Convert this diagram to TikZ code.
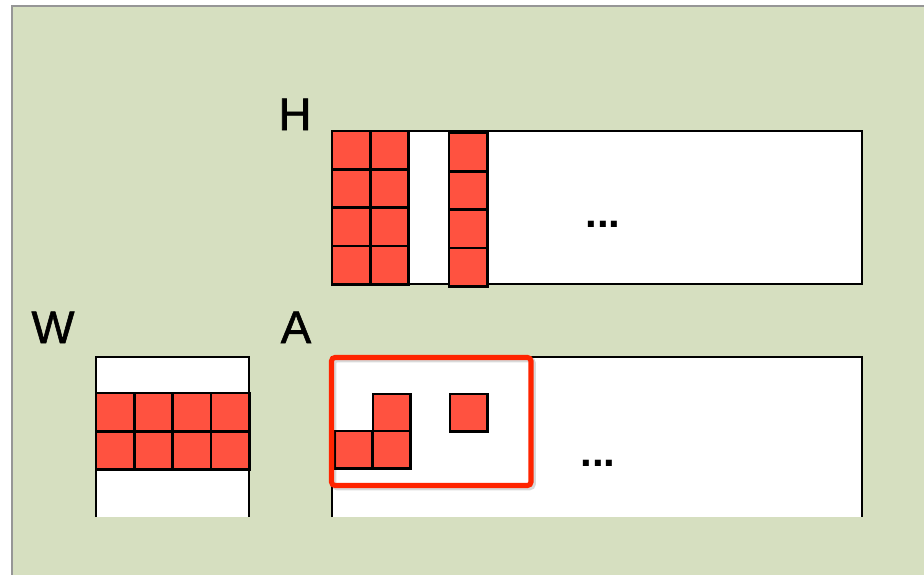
\documentclass[tikz,border=0pt]{standalone}
\usepackage{fontspec}
\setmainfont{Liberation Sans}
\newfontfamily\labfont[FakeBold=1.2]{Liberation Sans}
\usepackage{xcolor}
\usepackage{tikz}
\definecolor{panelbg}{RGB}{214,223,192}
\definecolor{panelrim}{RGB}{150,150,150}
\definecolor{cellred}{RGB}{255,82,64}
\definecolor{framered}{RGB}{255,36,0}

\tikzset{
  cell/.style={fill=cellred, draw=black, line width=1.5pt},
  matrim/.style={draw=black, line width=1.1pt},
  letter/.style={anchor=base, inner sep=0pt, font=\labfont\fontsize{26}{30}\selectfont},
  dots/.style={inner sep=0pt, font=\fontsize{24}{28}\selectfont\bfseries}
}

\begin{document}
\begin{tikzpicture}[x=0.02cm, y=-0.02cm]
			\def\cs{38.3}
			\def\ca{37.5}
			\useasboundingbox (0,0) rectangle (924,575);

			% panel
			\fill[panelbg] (12,6) rectangle (940,590);
			\draw[panelrim, line width=1.2pt] (12,590) -- (12,6) -- (940,6);

			% H: 4 x many
			\fill[white] (332,131) rectangle (862,284);
			\draw[matrim] (332,131) rectangle (862,284);
			\foreach \c in {0,1}
				\foreach \r in {0,...,3}
					\draw[cell] ({332+\c*\cs},{131+\r*\cs}) rectangle ++(\cs,\cs);
			\foreach \r in {0,...,3}
				\draw[cell] (449,{133+\r*\cs}) rectangle ++(\cs,\cs);

			% W: open at the bottom
			\fill[white] (96,357) rectangle (249,517);
			\draw[matrim] (96,517) -- (96,357) -- (249,357) -- (249,517);
			\foreach \c in {0,...,3}
				\foreach \r in {0,1}
					\draw[cell] ({96+\c*\cs},{393+\r*\cs}) rectangle ++(\cs,\cs);

			% A: open at the bottom
			\fill[white] (332,357) rectangle (862,517);
			\draw[matrim] (332,517) -- (332,357) -- (862,357) -- (862,517);
			\foreach \x/\y in {373/394, 335/431, 373/431, 450/394}
				\draw[cell] (\x,\y) rectangle ++(\ca,\ca);

			% highlighted block
			\draw[black, opacity=0.15, line width=3.2pt, rounded corners=2pt] (333.5,359.5) rectangle (533,487.5);
			\draw[framered, line width=2.9pt, rounded corners=2pt] (331.5,357.5) rectangle (531,485.5);

			\node[letter] (labH) at (295,130) {H};
			\node[letter] (labW) at (53,343) {W};
			\node[letter] (labA) at (296,343) {A};

			\node[dots] (dotsH) at (603,224) {...};
			\node[dots] (dotsA) at (598,463) {...};

		\end{tikzpicture}
\end{document}
